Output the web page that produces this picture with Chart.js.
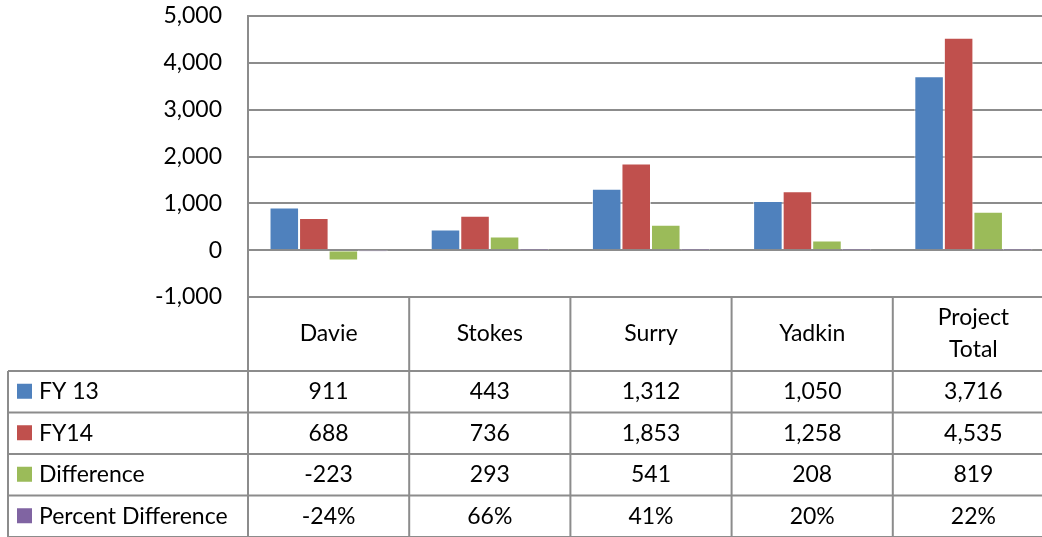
<!DOCTYPE html>
<html>
<head>
<meta charset="utf-8">
<script src="https://cdn.jsdelivr.net/npm/chart.js@4"></script>
<style>
  html, body { margin: 0; padding: 0; background: #fff; overflow: hidden; }
  #wrap { width: 1054px; height: 537px; position: relative; }
</style>
</head>
<body>
<div id="wrap"><canvas id="myChart"></canvas></div>
<script>
var categories = ['Davie', 'Stokes', 'Surry', 'Yadkin', ['Project', 'Total']];
var seriesNames = ['FY 13', 'FY14', 'Difference', 'Percent Difference'];
var fy13 = [911, 443, 1312, 1050, 3716];
var fy14 = [688, 736, 1853, 1258, 4535];
var difference = [-223, 293, 541, 208, 819];
var percentDiff = [-0.24, 0.66, 0.41, 0.20, 0.22];
var yTicks = [-1000, 0, 1000, 2000, 3000, 4000, 5000];

var colors = ['#4F81BD', '#C0504D', '#9BBB59', '#8064A2'];
var font = 'Lato, "Open Sans", sans-serif';
var fontSize = 23;
var gridColor = '#8c8c8c';

function fmtNum(v) {
  return v.toLocaleString('en-US');
}
function fmtPct(v) {
  return Math.round(v * 100) + '%';
}

// draws the data table under the plot, like Excel does
var dataTablePlugin = {
  id: 'dataTable',
  afterDraw: function(chart) {
    var ctx = chart.ctx;
    var area = chart.chartArea;
    var xScale = chart.scales.x;
    var n = categories.length;
    var colW = (area.right - area.left) / n;
    var top = area.bottom;
    var headerBottom = top + 74;
    var rowH = 41.5;
    var left = 8;
    var rows = [fy13, fy14, difference, percentDiff];

    ctx.save();
    ctx.strokeStyle = gridColor;
    ctx.lineWidth = 2;

    // horizontal lines
    ctx.beginPath();
    for (var r = 0; r <= rows.length; r++) {
      var y = headerBottom + r * rowH;
      ctx.moveTo(left, y);
      ctx.lineTo(area.right, y);
    }
    // vertical lines
    for (var c = 0; c <= n; c++) {
      var x = area.left + c * colW;
      ctx.moveTo(x, top);
      ctx.lineTo(x, headerBottom + rows.length * rowH);
    }
    ctx.moveTo(left, headerBottom);
    ctx.lineTo(left, headerBottom + rows.length * rowH);
    ctx.stroke();

    ctx.fillStyle = '#000';
    ctx.font = fontSize + 'px ' + font;
    ctx.textAlign = 'center';
    ctx.textBaseline = 'middle';

    // header labels
    for (var i = 0; i < n; i++) {
      var cx = xScale.getPixelForValue(i);
      var lab = categories[i];
      if (Array.isArray(lab)) {
        ctx.fillText(lab[0], cx, top + 21);
        ctx.fillText(lab[1], cx, top + 53);
      } else {
        ctx.fillText(lab, cx, (top + headerBottom) / 2);
      }
    }

    // rows
    for (var r = 0; r < rows.length; r++) {
      var cy = headerBottom + r * rowH + rowH / 2;
      ctx.fillStyle = colors[r];
      ctx.fillRect(17, cy - 8, 15, 15);
      ctx.fillStyle = '#000';
      ctx.textAlign = 'left';
      ctx.fillText(seriesNames[r], 39, cy);
      ctx.textAlign = 'center';
      for (var i = 0; i < n; i++) {
        var cx = xScale.getPixelForValue(i);
        var v = rows[r][i];
        ctx.fillText(r === 3 ? fmtPct(v) : fmtNum(v), cx, cy);
      }
    }
    ctx.restore();
  }
};

var datasets = [fy13, fy14, difference, percentDiff].map(function(vals, i) {
  return {
    label: seriesNames[i],
    data: vals,
    backgroundColor: colors[i],
    borderColor: 'rgba(255,255,255,0.6)',
    borderWidth: 1,
    categoryPercentage: 0.733,
    barPercentage: 1.0
  };
});

var myChart = new Chart(document.getElementById('myChart'), {
  type: 'bar',
  data: {
    labels: categories.map(function(c) { return Array.isArray(c) ? c.join(' ') : c; }),
    datasets: datasets
  },
  plugins: [dataTablePlugin],
  options: {
    responsive: true,
    maintainAspectRatio: false,
    animation: false,
    layout: { padding: { top: 16, bottom: 240, left: 0, right: 0 } },
    plugins: {
      legend: { display: false },
      tooltip: { enabled: false }
    },
    scales: {
      x: {
        display: false
      },
      y: {
        min: -1000,
        max: 5000,
        afterBuildTicks: function(scale) {
          scale.ticks = yTicks.map(function(v) { return { value: v }; });
        },
        afterFit: function(scale) {
          scale.width = 248;
          scale.paddingTop = 0;
          scale.paddingBottom = 0;
        },
        grid: {
          color: gridColor,
          lineWidth: 2,
          drawTicks: false
        },
        border: { display: true, color: gridColor, width: 2 },
        ticks: {
          padding: 26,
          color: '#000',
          font: { family: font, size: fontSize },
          callback: function(v) { return fmtNum(v); }
        }
      }
    }
  }
});
</script>
</body>
</html>
